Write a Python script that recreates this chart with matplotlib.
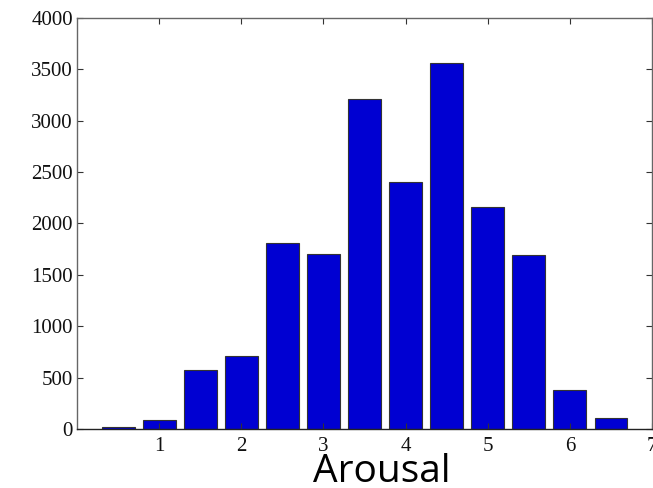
import numpy as np
import matplotlib
matplotlib.use("Agg")
import matplotlib.pyplot as plt

# histogram of arousal ratings
bin_centers = [0.5, 1.0, 1.5, 2.0, 2.5, 3.0, 3.5, 4.0, 4.5, 5.0, 5.5, 6.0, 6.5]
counts = [20, 85, 577, 707, 1815, 1708, 3215, 2400, 3565, 2163, 1697, 380, 104]
x_ticks = [1, 2, 3, 4, 5, 6, 7]
y_ticks = [0, 500, 1000, 1500, 2000, 2500, 3000, 3500, 4000]

fig = plt.figure(figsize=(6.53, 4.88), dpi=100)
ax = fig.add_axes([77/653, 1 - 429/488, 575/653, 411/488])

ax.bar(bin_centers, counts, width=0.4, color='#0000D2', edgecolor='#333333', linewidth=0.8)

ax.set_xlim(0, 7)
ax.set_ylim(0, 4000)
ax.set_xticks(x_ticks)
ax.set_yticks(y_ticks)

for s in ax.spines.values():
    s.set_color('#666666')
    s.set_linewidth(1.0)
ax.spines['bottom'].set_color('#222222')

ax.tick_params(direction='in', length=4, width=0.8, colors='#333333',
               top=True, right=True, labelsize=15)
for lab in ax.get_xticklabels() + ax.get_yticklabels():
    lab.set_family('Liberation Serif')
    lab.set_color('#111111')
ax.tick_params(axis='x', pad=6)
ax.tick_params(axis='y', pad=3)

# big label sits just under the tick numbers
ax.set_xlabel('Arousal', fontsize=28, family='Open Sans')
ax.xaxis.set_label_coords(0.53, -0.058, transform=ax.transAxes)
ax.xaxis.label.set_va('top')

fig.savefig('out.png', dpi=100)
